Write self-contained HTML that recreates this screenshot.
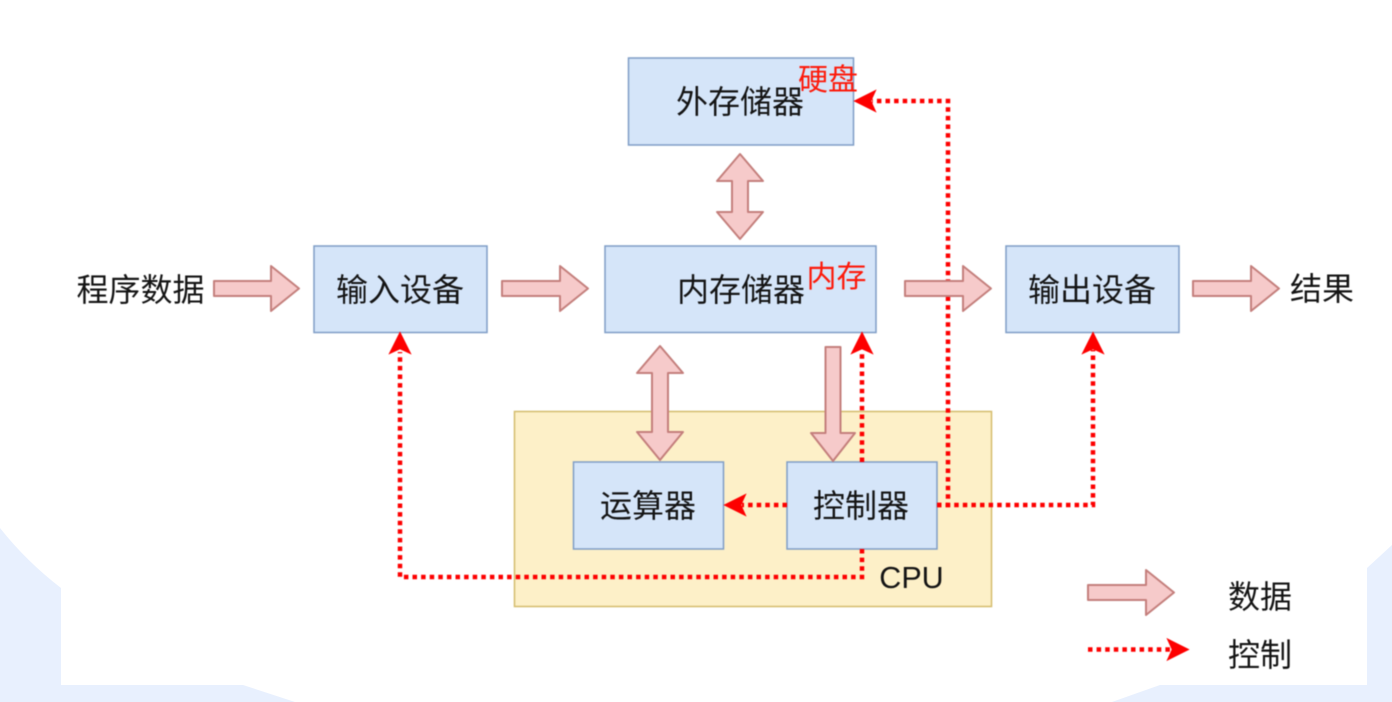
<!DOCTYPE html>
<html><head><meta charset="utf-8">
<style>
html,body{margin:0;padding:0;background:#fff;width:1392px;height:702px;overflow:hidden}
svg{display:block}
.fg{filter:blur(.45px)}
text{font-family:"Liberation Sans","Noto Sans CJK SC",sans-serif;font-size:32px;fill:#141414;text-anchor:middle}
.b{fill:#d5e5f9;stroke:#7f9dc6;stroke-width:1.5}
.a{fill:#f6caca;stroke:#c47f7c;stroke-width:2;stroke-linejoin:round}
.d{fill:none;stroke:#fd0000;stroke-width:4.5;stroke-dasharray:4.5 4.1}
.h{fill:#fd0000;stroke:#fd0000;stroke-width:.6}
.r{font-size:30px;fill:#fd1a0a}
</style></head><body>
<svg width="1392" height="702" viewBox="0 0 1392 702" xmlns="http://www.w3.org/2000/svg">
<g fill="#e8f0fe">
<path d="M0 528Q26 561 61 588V685H243L295 702H0Z"/>
<path d="M1392 545L1367 568V685H1160L1112 702H1392Z"/>
</g>
<g class="fg">
<rect x="514.500" y="411.500" width="477" height="195" fill="#fdf0c8" stroke="#d4bc6c" stroke-width="1.500"/>
<rect class="b" x="628.500" y="58" width="225" height="87"/>
<rect class="b" x="605" y="246" width="271" height="86.500"/>
<rect class="b" x="314" y="246" width="173" height="86.500"/>
<rect class="b" x="1006" y="246" width="173" height="86.500"/>
<rect class="b" x="573.500" y="462" width="150" height="87"/>
<rect class="b" x="787" y="462" width="150" height="87"/>

<path class="d" d="M937 505H948V101H872"/>
<path class="d" d="M937 505H1093V350"/>
<path class="d" d="M787 505H742"/>
<path class="d" d="M862 462V352"/>
<path class="d" d="M862 549V577H400V352"/>
<path class="d" d="M1088 649.500H1170"/>

<path class="h" d="M854 101L876 90L871 101L876 112Z"/>
<path class="h" d="M1093 332L1104 354L1093 349L1082 354Z"/>
<path class="h" d="M724 505L746 494L741 505L746 516Z"/>
<path class="h" d="M862 332L873 354L862 349L851 354Z"/>
<path class="h" d="M400 332L411 354L400 349L389 354Z"/>
<path class="h" d="M1189 649.500L1167 638.500L1172 649.500L1167 660.500Z"/>

<path class="a" d="M214 281H271V266L299 288.500L271 311V296H214Z"/>
<path class="a" d="M502 281H560V266L588 288.500L560 311V296H502Z"/>
<path class="a" d="M905 281H963V266L991 288.500L963 311V296H905Z"/>
<path class="a" d="M1193 281H1251V266L1279 288.500L1251 311V296H1193Z"/>
<path class="a" d="M1088 585H1146V570L1174 592.500L1146 615V600H1088Z"/>
<path class="a" d="M740 154L763 181H748V212H763L740 239L717 212H732V181H717Z"/>
<path class="a" d="M660 346L683 373H668V432H683L660 460L637 432H652V373H637Z"/>
<path class="a" d="M825.500 347H840.500V433H855L833 461L811 433H825.500Z"/>

<text x="740" y="113">外存储器</text>
<text x="741" y="301">内存储器</text>
<text x="400" y="301">输入设备</text>
<text x="1092" y="301">输出设备</text>
<text x="140.500" y="301">程序数据</text>
<text x="1322" y="300">结果</text>
<text x="648" y="517">运算器</text>
<text x="861" y="517">控制器</text>
<text x="1260" y="608">数据</text>
<text x="1260" y="666">控制</text>
<text x="911.500" y="588" style="font-size:30.500px">CPU</text>
<text class="r" x="828" y="90">硬盘</text>
<text class="r" x="836.500" y="287">内存</text>
</g>
</svg>
</body></html>
